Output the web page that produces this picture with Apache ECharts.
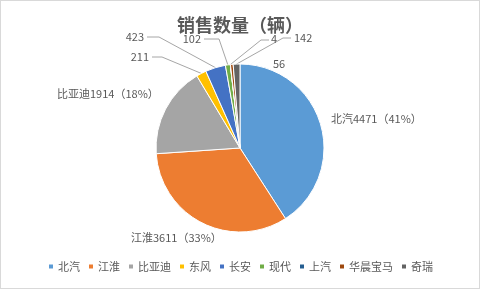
<!DOCTYPE html>
<html><head><meta charset="utf-8">
<script src="https://cdn.jsdelivr.net/npm/echarts@6/dist/echarts.min.js"></script>
<style>
html,body{margin:0;padding:0;background:#fff;}
#c{width:480px;height:289px;box-sizing:border-box;border:1px solid #d9d9d9;}
</style></head>
<body><div id="c"></div>
<script>
const titleText = '销售数量（辆）';
const brands = ['北汽','江淮','比亚迪','东风','长安','现代','上汽','华晨宝马','奇瑞'];
const sales = [4471, 3611, 1914, 211, 423, 102, 4, 56, 142];
const colors = ['#5B9BD5','#ED7D31','#A5A5A5','#FFC000','#4472C4','#70AD47','#255E91','#9E480E','#636363'];
const showPercent = [true, true, true, false, false, false, false, false, false];

// label placement (style only)
const labelPlace = [
  {x:330, y:118, align:'left', line:null},
  {x:130, y:237, align:'left', line:null},
  {x:56,  y:93,  align:'left', line:null},
  {x:148, y:56,  align:'right', line:[[161,56],[151,56]]},
  {x:143, y:36,  align:'right', line:[[158,36],[146,36]]},
  {x:200, y:38,  align:'right', line:[[218,38],[203,38]]},
  {x:270, y:38,  align:'left', line:[[260,39],[268,39]]},
  {x:272, y:63,  align:'left', line:null},
  {x:293, y:37,  align:'left', line:[[282,37],[290,37]]}
];

const total = sales.reduce((a,b)=>a+b,0);
const txt = '#595959';
const font = '"Noto Sans CJK SC","Noto Sans",sans-serif';

const data = brands.map((n,i)=>({
  name:n, value:sales[i],
  itemStyle:{color:colors[i]},
  labelLine:{show: !!labelPlace[i].line}
}));

const chart = echarts.init(document.getElementById('c'), null, {renderer:'canvas'});
chart.setOption({
  animation:false,
  backgroundColor:'#fff',
  title:{text:titleText, left:'center', top:10,
    textStyle:{fontSize:18, fontWeight:'bold', color:txt, fontFamily:font}},
  legend:{
    bottom:11, left:'center', itemWidth:6, itemHeight:6, itemGap:7,
    icon:'rect',
    textStyle:{fontSize:11, color:txt, fontFamily:font, padding:[0,0,0,-1]},
    data:brands
  },
  series:[{
    type:'pie',
    center:[239,147],
    radius:[0,84],
    startAngle:90,
    clockwise:true,
    avoidLabelOverlap:false,
    itemStyle:{borderColor:'#fff', borderWidth:1},
    label:{
      show:true, position:'outside', color:txt, fontSize:11, fontFamily:font,
      formatter:function(p){
        const i = p.dataIndex;
        if (showPercent[i]) {
          return p.name + p.value + '（' + Math.round(p.value/total*100) + '%）';
        }
        return String(p.value);
      }
    },
    labelLine:{show:true, length:10, length2:10, lineStyle:{color:'#a6a6a6', width:1}},
    labelLayout:function(params){
      const lp = labelPlace[params.dataIndex];
      const out = {x:lp.x, y:lp.y, align:lp.align, verticalAlign:'middle'};
      if (lp.line && params.labelLinePoints) {
        const p0 = params.labelLinePoints[0];
        out.labelLinePoints = [p0, lp.line[0], lp.line[1]];
      }
      return out;
    },
    data:data
  }]
});
</script></body></html>
